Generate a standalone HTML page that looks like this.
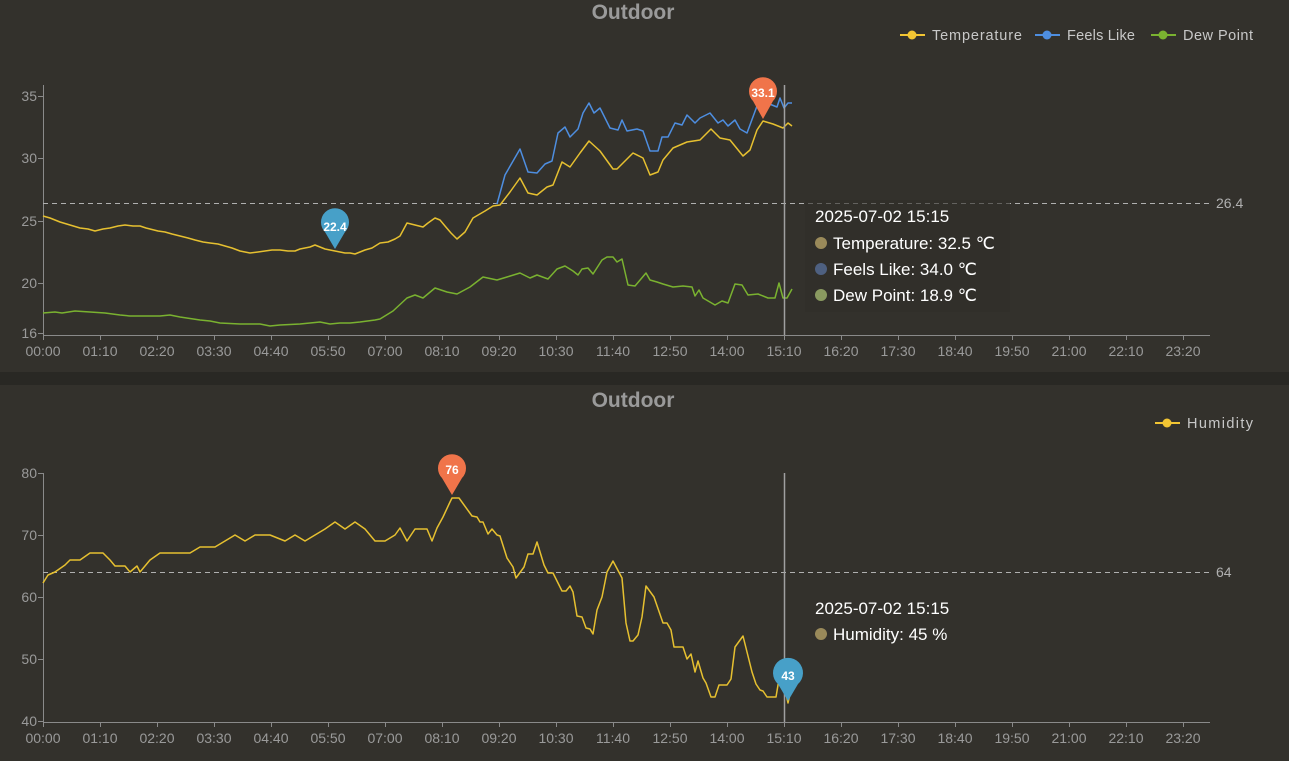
<!DOCTYPE html>
<html><head><meta charset="utf-8"><style>
html,body{margin:0;padding:0;background:#33312c;}
svg{display:block;font-family:"Liberation Sans",sans-serif;}
</style></head><body>
<svg width="1289" height="761" viewBox="0 0 1289 761" xmlns="http://www.w3.org/2000/svg">
<rect width="1289" height="761" fill="#33312c"/>
<rect x="0" y="372" width="1289" height="13" fill="#292824"/>
<text x="633" y="19" text-anchor="middle" font-size="21" font-weight="bold" fill="#9a9a9a">Outdoor</text>
<text x="633" y="407" text-anchor="middle" font-size="21" font-weight="bold" fill="#9a9a9a">Outdoor</text>
<!-- legend -->
<g font-size="14.5" fill="#c8c8c8">
<line x1="900" y1="35" x2="925" y2="35" stroke="#f2c533" stroke-width="2"/><circle cx="912" cy="35" r="4.5" fill="#f2c533"/><text x="932" y="40" textLength="90">Temperature</text>
<line x1="1035" y1="35" x2="1060" y2="35" stroke="#4e8ee0" stroke-width="2"/><circle cx="1047" cy="35" r="4.5" fill="#4e8ee0"/><text x="1067" y="40" textLength="68">Feels Like</text>
<line x1="1151" y1="35" x2="1176" y2="35" stroke="#7ab230" stroke-width="2"/><circle cx="1163" cy="35" r="4.5" fill="#7ab230"/><text x="1183" y="40" textLength="70">Dew Point</text>
<line x1="1155" y1="423" x2="1180" y2="423" stroke="#f2c533" stroke-width="2"/><circle cx="1167" cy="423" r="4.5" fill="#f2c533"/><text x="1187" y="428" textLength="66">Humidity</text>
</g>
<!-- axes -->
<g stroke="#8a8a8a" stroke-width="1">
<line x1="43.5" y1="85" x2="43.5" y2="335"/>
<line x1="43" y1="335.5" x2="1210" y2="335.5"/>
<line x1="38" y1="96.5" x2="43" y2="96.5"/><line x1="38" y1="158.5" x2="43" y2="158.5"/><line x1="38" y1="221.5" x2="43" y2="221.5"/><line x1="38" y1="283.5" x2="43" y2="283.5"/><line x1="38" y1="333.5" x2="43" y2="333.5"/>
<line x1="43.5" y1="473" x2="43.5" y2="722"/>
<line x1="43" y1="722.5" x2="1210" y2="722.5"/>
<line x1="38" y1="473.5" x2="43" y2="473.5"/><line x1="38" y1="535.5" x2="43" y2="535.5"/><line x1="38" y1="597.5" x2="43" y2="597.5"/><line x1="38" y1="659.5" x2="43" y2="659.5"/><line x1="38" y1="721.5" x2="43" y2="721.5"/>
</g>
<g stroke="#8a8a8a">
<path d="M43.5 335v5M100.5 335v5M157.5 335v5M214.5 335v5M271.5 335v5M328.5 335v5M385.5 335v5M442.5 335v5M499.5 335v5M556.5 335v5M613.5 335v5M670.5 335v5M727.5 335v5M784.5 335v5M841.5 335v5M898.5 335v5M955.5 335v5M1012.5 335v5M1069.5 335v5M1126.5 335v5M1183.5 335v5"/>
<path d="M43.5 722v5M100.5 722v5M157.5 722v5M214.5 722v5M271.5 722v5M328.5 722v5M385.5 722v5M442.5 722v5M499.5 722v5M556.5 722v5M613.5 722v5M670.5 722v5M727.5 722v5M784.5 722v5M841.5 722v5M898.5 722v5M955.5 722v5M1012.5 722v5M1069.5 722v5M1126.5 722v5M1183.5 722v5"/>
</g>
<g font-size="14" fill="#9a9a9a" text-anchor="end">
<text x="37" y="101">35</text><text x="37" y="163">30</text><text x="37" y="226">25</text><text x="37" y="288">20</text><text x="37" y="338">16</text>
<text x="37" y="478">80</text><text x="37" y="540">70</text><text x="37" y="602">60</text><text x="37" y="664">50</text><text x="37" y="726">40</text>
</g>
<g font-size="14" fill="#9a9a9a" text-anchor="middle">
<text x="43" y="356">00:00</text><text x="100" y="356">01:10</text><text x="157" y="356">02:20</text><text x="214" y="356">03:30</text><text x="271" y="356">04:40</text><text x="328" y="356">05:50</text><text x="385" y="356">07:00</text><text x="442" y="356">08:10</text><text x="499" y="356">09:20</text><text x="556" y="356">10:30</text><text x="613" y="356">11:40</text><text x="670" y="356">12:50</text><text x="727" y="356">14:00</text><text x="784" y="356">15:10</text><text x="841" y="356">16:20</text><text x="898" y="356">17:30</text><text x="955" y="356">18:40</text><text x="1012" y="356">19:50</text><text x="1069" y="356">21:00</text><text x="1126" y="356">22:10</text><text x="1183" y="356">23:20</text>
<text x="43" y="743">00:00</text><text x="100" y="743">01:10</text><text x="157" y="743">02:20</text><text x="214" y="743">03:30</text><text x="271" y="743">04:40</text><text x="328" y="743">05:50</text><text x="385" y="743">07:00</text><text x="442" y="743">08:10</text><text x="499" y="743">09:20</text><text x="556" y="743">10:30</text><text x="613" y="743">11:40</text><text x="670" y="743">12:50</text><text x="727" y="743">14:00</text><text x="784" y="743">15:10</text><text x="841" y="743">16:20</text><text x="898" y="743">17:30</text><text x="955" y="743">18:40</text><text x="1012" y="743">19:50</text><text x="1069" y="743">21:00</text><text x="1126" y="743">22:10</text><text x="1183" y="743">23:20</text>
</g>
<!-- mark lines -->
<line x1="43" y1="203.5" x2="1210" y2="203.5" stroke="#b0b0b0" stroke-dasharray="5,4"/>
<text x="1216" y="208" font-size="14" fill="#b0b0b0">26.4</text>
<line x1="43" y1="572.5" x2="1210" y2="572.5" stroke="#b0b0b0" stroke-dasharray="5,4"/>
<text x="1216" y="577" font-size="14" fill="#b0b0b0">64</text>
<!-- series -->
<g fill="none" stroke-width="1.5" stroke-linejoin="round">
<polyline stroke="#7ab230" points="43,313 55,312 62,313 75,311 90,312 105,313 120,315 130,316 140,316 160,316 170,315 180,317 200,320 210,321 220,323 240,324 260,324 270,326 280,325 300,324 310,323 320,322 330,324 340,323 350,323 360,322 375,320 380,319 393,311 407,298 415,295 423,298 435,288 447,292 457,294 470,287 483,277 497,280 507,277 520,273 530,278 537,275 548,279 557,269 565,266 573,271 578,275 582,269 588,268 593,274 602,260 607,257 613,257 617,262 622,259 628,285 635,286 646,273 650,280 657,282 663,284 673,287 683,286 692,287 695,296 699,290 703,298 715,305 722,301 728,303 735,284 742,285 748,295 758,294 768,298 775,298 779,283 783,298 787,298 792,289"/>
<polyline stroke="#4e8ee0" points="497,204 505,175 520,149 528,172 537,173 545,164 552,161 558,133 565,127 570,137 578,129 583,113 589,103 594,113 600,108 610,128 618,130 622,120 627,131 637,129 643,131 650,151 658,151 662,137 668,137 675,123 682,125 687,115 695,123 700,118 710,113 718,123 723,120 728,126 735,120 740,129 747,133 757,106 767,103 777,107 780,98 784,108 788,103 792,103"/>
<polyline stroke="#e6c030" points="43,216 50,218 60,222 70,225 80,228 88,229 95,231 103,229 110,228 118,226 125,225 133,226 140,226 146,228 150,229 158,231 165,232 172,234 180,236 188,238 195,240 203,242 210,243 218,244 225,246 232,248 240,251 245,252 250,253 258,252 265,251 272,250 280,250 288,251 295,251 300,249 305,248 310,247 315,245 320,247 325,249 335,251 345,253 350,253 355,254 360,252 365,250 372,248 380,243 388,242 395,239 400,236 407,223 415,225 423,227 428,223 435,218 440,220 445,226 451,233 457,239 465,232 473,218 485,211 493,206 500,205 510,192 520,178 528,193 537,195 547,187 553,185 562,162 570,167 580,153 589,141 600,151 613,169 617,169 633,153 643,158 650,175 658,172 663,160 673,148 680,145 687,142 700,140 711,129 720,138 730,140 743,156 750,150 757,130 763,121 773,124 783,128 788,123 792,126"/>
<polyline stroke="#e6c030" points="43,583 48,575 55,572 65,565 70,560 80,560 90,553 103,553 110,560 115,566 125,566 130,572 137,566 140,572 145,566 150,560 160,553 170,553 190,553 200,547 215,547 225,541 235,535 245,541 255,535 270,535 285,541 295,535 305,541 315,535 325,529 335,522 345,529 355,522 365,529 375,541 385,541 395,535 400,528 407,541 415,529 427,529 432,541 437,528 443,517 450,502 452,498 459,498 472,516 477,517 480,522 483,522 488,534 492,529 497,535 500,536 507,558 513,567 516,578 524,567 528,554 533,554 537,542 544,565 548,573 553,573 562,591 566,591 570,586 573,592 577,616 582,617 586,628 590,629 593,634 597,610 602,597 607,572 613,561 622,578 626,623 630,641 633,641 638,635 642,617 646,586 654,597 663,623 667,623 671,630 674,647 683,647 687,659 691,654 695,672 698,661 703,678 706,683 711,697 715,697 719,685 727,685 731,679 735,647 743,636 752,672 756,684 760,690 763,691 767,697 776,697 780,673 784,685 788,703 792,685"/>
</g>
<!-- crosshair -->
<line x1="784.5" y1="85" x2="784.5" y2="335" stroke="#a0a0a0" stroke-width="1.5"/>
<line x1="784.5" y1="473" x2="784.5" y2="722" stroke="#a0a0a0" stroke-width="1.5"/>
<!-- pins -->
<g font-size="12" font-weight="bold" fill="#fff" text-anchor="middle">
<path d="M763 119 L753 101 A14 14 0 1 1 773 101 Z" fill="#f0744a"/><text x="763" y="97">33.1</text>
<path d="M335 249 L325 232 A14 14 0 1 1 345 232 Z" fill="#47a0c8"/><text x="335" y="231">22.4</text>
<path d="M452 495 L442 478 A14 14 0 1 1 462 478 Z" fill="#f0744a"/><text x="452" y="474">76</text>
<path d="M788 701 L778 684 A15 15 0 1 1 798 684 Z" fill="#47a0c8"/><text x="788" y="680">43</text>
</g>
<!-- tooltips -->
<rect x="805" y="200" width="205" height="112" fill="#302f2a" opacity="0.6"/>
<g font-size="17" fill="#ffffff">
<text x="815" y="222">2025-07-02 15:15</text>
<circle cx="821" cy="243" r="6" fill="#9a8a5a"/><text x="833" y="249">Temperature: 32.5 ℃</text>
<circle cx="821" cy="269" r="6" fill="#4e6080"/><text x="833" y="275">Feels Like: 34.0 ℃</text>
<circle cx="821" cy="295" r="6" fill="#8a9a60"/><text x="833" y="301">Dew Point: 18.9 ℃</text>
<text x="815" y="614">2025-07-02 15:15</text>
<circle cx="821" cy="634" r="6" fill="#9a8a5a"/><text x="833" y="640">Humidity: 45 %</text>
</g>
</svg>
</body></html>
